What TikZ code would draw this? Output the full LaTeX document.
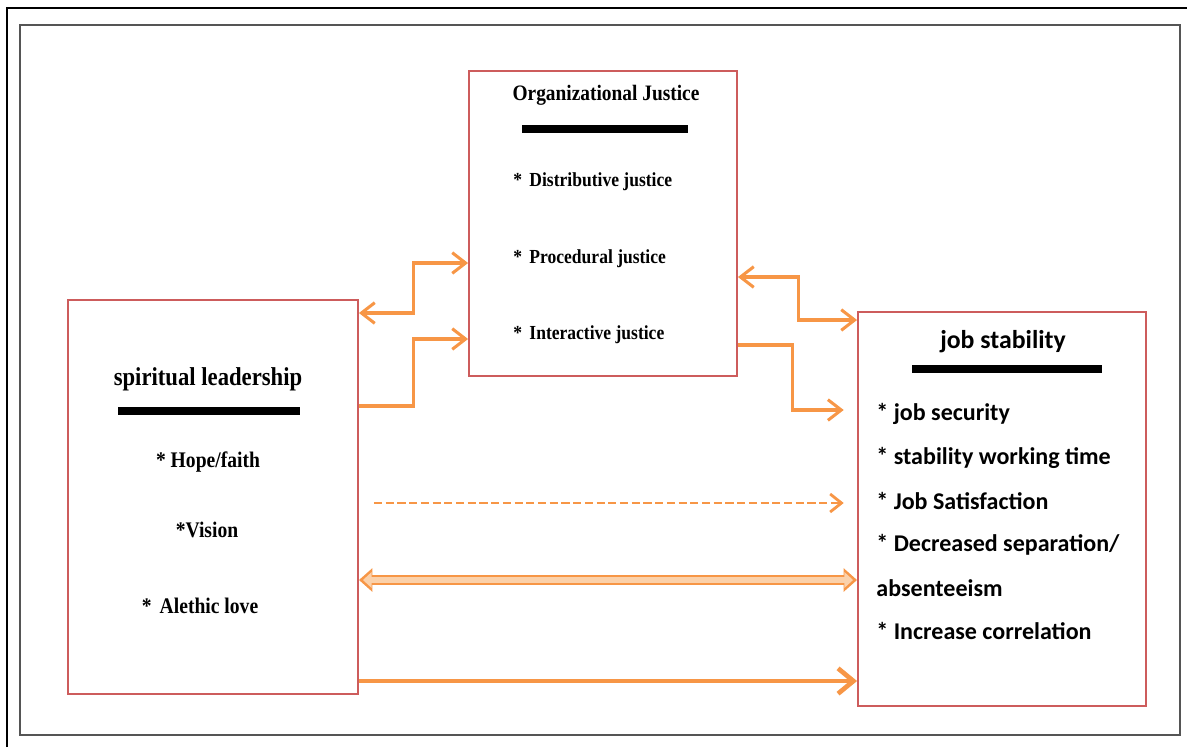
\documentclass[tikz,border=0pt]{standalone}
\usepackage{fontspec}
\setmainfont{Liberation Serif}
\newfontfamily\calib{Carlito}
\usepackage{graphicx}
\usepackage{tikz}
\usetikzlibrary{arrows.meta,positioning,calc}
\definecolor{boxred}{HTML}{CD5C5C}
\definecolor{linkorange}{HTML}{F79646}
\definecolor{linkpeach}{HTML}{FBD1AA}
\definecolor{framegray}{HTML}{555555}

% narrow bold serif as in the figure
\newcommand{\narrow}[1]{\scalebox{0.88}[1]{#1}}

\tikzset{
  box/.style={draw=boxred,line width=1.6pt,fill=white,inner sep=0pt},
  bar/.style={line width=6pt,black},
  barb/.tip={Straight Barb[length=4mm,width=6.2mm]},
  link/.style={draw=linkorange,line width=2.6pt,arrows={-barb}},
  item/.style={font=\bfseries\fontsize{17}{20}\selectfont,inner sep=1pt},
  leaditem/.style={font=\bfseries\fontsize{19}{22}\selectfont,inner sep=1pt},
  jobitem/.style={font=\calib\bfseries\fontsize{20.5}{24}\selectfont,anchor=west,inner sep=1pt}
}

\begin{document}
\begin{tikzpicture}[x=0.03cm,y=-0.03cm]
  \useasboundingbox (0,0) rectangle (1187,747);
  % frames
  \draw[black,line width=0.9pt] (7,747) -- (7,8) -- (1187,8);
  \draw[framegray,line width=1.6pt] (20,25) rectangle (1180,735);

  % the three boxes
  \node[box,minimum width=8.7cm,minimum height=11.82cm] (sl) at (213,497) {};
  \node[box,minimum width=8.04cm,minimum height=9.15cm] (oj) at (603,223.5) {};
  \node[box,minimum width=8.64cm,minimum height=11.82cm] (js) at (1002,509) {};

  % spiritual leadership
  \node[font=\bfseries\fontsize{22}{25}\selectfont] (slt) at (208,379) {\narrow{spiritual leadership}};
  \draw[bar] (118,411) -- (300,411);
  \node[leaditem] (sl1) at (208,462) {\narrow{* Hope/faith}};
  \node[leaditem] (sl2) at (207,530) {\narrow{*Vision}};
  \node[leaditem] (sl3) at (200,606) {\narrow{*\, Alethic love}};

  % organizational justice
  \node[font=\bfseries\fontsize{18.8}{22}\selectfont] (ojt) at (606,95) {\narrow{Organizational Justice}};
  \draw[bar] (522,129) -- (688,129);
  \node[item,anchor=west] (oj1) at (512,182) {\narrow{*\, Distributive justice}};
  \node[item,anchor=west] (oj2) at (512,259) {\narrow{*\, Procedural justice}};
  \node[item,anchor=west] (oj3) at (512,335) {\narrow{*\, Interactive justice}};

  % job stability
  \node[font=\calib\bfseries\fontsize{22}{26}\selectfont] (jst) at (1003,342) {job stability};
  \draw[bar] (912,369) -- (1102,369);
  \node[jobitem] (js1) at (875,414) {* job security};
  \node[jobitem] (js2) at (875,458) {* stability working time};
  \node[jobitem] (js3) at (875,501) {* Job Satisfaction};
  \node[jobitem] (js4) at (875,545) {* Decreased separation/};
  \node[jobitem] (js5) at (875,588) {absenteeism};
  \node[jobitem] (js6) at (875,631) {* Increase correlation};

  % connectors through the mediator
  \draw[link,arrows={barb-barb}]
    (sl.east |- 0,313) -- ++(55,0) |- (oj.west |- 0,263);
  \draw[link] (sl.east |- 0,406) -- ++(55,0) |- (oj.west |- 0,339);
  \draw[link,arrows={barb-barb}]
    (oj.east |- 0,277) -- ++(61,0) |- (js.west |- 0,320);
  \draw[link,shorten >=0.4cm] (oj.east |- 0,345) -- ++(55,0) |- (js.west |- 0,410);

  % direct connectors
  \draw[link,line width=1.6pt,dash pattern=on 7pt off 3pt,shorten <=0.45cm,shorten >=0.4cm,
    arrows={-Straight Barb[length=3.4mm,width=5.4mm,line width=2.4pt]}]
    (sl.east |- 0,503) -- (js.west |- 0,503);
  \draw[draw=linkorange,line width=9pt,arrows={Triangle[length=4mm,width=6.8mm]-Triangle[length=4mm,width=6.8mm]}]
    (sl.east |- 0,580) -- (js.west |- 0,580);
  \draw[draw=linkpeach,line width=5pt,shorten <=1.2mm,shorten >=1.2mm,
    arrows={Triangle[length=2.6mm,width=4.6mm]-Triangle[length=2.6mm,width=4.6mm]}]
    (sl.east |- 0,580) -- (js.west |- 0,580);
  \draw[link,line width=4pt,arrows={-Straight Barb[length=4.6mm,width=7.6mm]}]
    (sl.east |- 0,681) -- (js.west |- 0,681);
\end{tikzpicture}
\end{document}
